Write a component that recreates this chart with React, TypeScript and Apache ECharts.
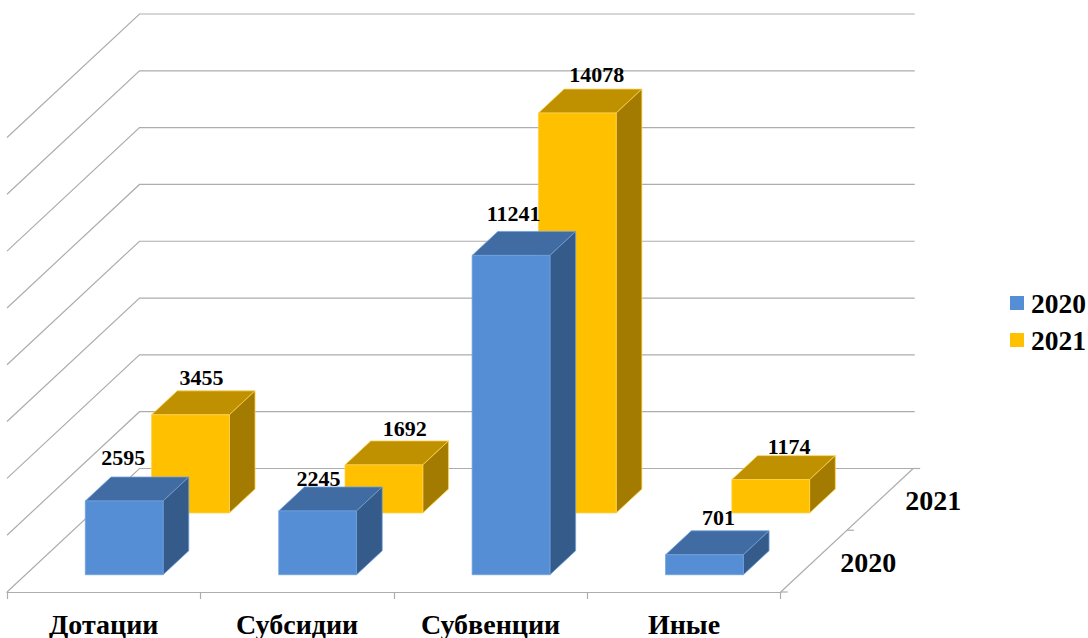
import React, { useEffect, useRef } from "react";
import * as echarts from "echarts";

const categories = ["Дотации", "Субсидии", "Субвенции", "Иные"];
const years = ["2020", "2021"];
const values2020 = [2595, 2245, 11241, 701];
const values2021 = [3455, 1692, 14078, 1174];
const wallTicks = [0, 2000, 4000, 6000, 8000, 10000, 12000, 14000, 16000];

// Layout of the oblique projection (not data)
const DEPTH_X = 132.5;
const DEPTH_Y = 123.5;
const ROW_FRONT = [0.14, 0.64];
const BAR_DEPTH = 0.194;
const BAR_WIDTH = 0.402;
const BAR_SHIFT = 0.01;
const LABEL_NUDGE_2020 = [[-1, -43], [1, -32], [2.5, -42], [14, -37]];
const LABEL_NUDGE_2021 = [[11, -37], [21, -36], [19.5, -39], [18.5, -33]];
const FONT = '"Liberation Serif", "Times New Roman", serif';
const LINE = "#ADADAD";

function project(api: any, x: number, v: number, d: number): number[] {
  const band = api.size([1, 0])[0];
  const p = api.coord([0, v]);
  const x0 = p[0] - band / 2 + x * band;
  return [x0 + d * DEPTH_X, p[1] - d * DEPTH_Y];
}

function poly(points: number[][], fill: string, stroke: string, z2 = 0) {
  return {
    type: "polygon",
    z2,
    shape: { points },
    style: { fill, stroke, lineWidth: 0.8 },
  };
}

function barSeries(
  name: string,
  values: number[],
  row: number,
  nudge: number[][],
  colors: { front: string; top: string; side: string; edge: string; main: string },
) {
  return {
    type: "custom",
    name,
    coordinateSystem: "cartesian2d",
    z: 3 + (1 - row),
    itemStyle: { color: colors.main },
    data: values.map((v, i) => [i, v]),
    encode: { x: 0, y: 1 },
    renderItem: (params: any, api: any) => {
      const c = api.value(0) as number;
      const v = api.value(1) as number;
      const d0 = ROW_FRONT[row];
      const d1 = d0 + BAR_DEPTH;
      const l = c + 0.5 + BAR_SHIFT - BAR_WIDTH / 2;
      const r = c + 0.5 + BAR_SHIFT + BAR_WIDTH / 2;
      const fb = project(api, l, 0, d0);
      const fbr = project(api, r, 0, d0);
      const ft = project(api, l, v, d0);
      const ftr = project(api, r, v, d0);
      const bt = project(api, l, v, d1);
      const btr = project(api, r, v, d1);
      const bbr = project(api, r, 0, d1);
      const centre = project(api, c + 0.5 + BAR_SHIFT, v, d0);
      const n = nudge[c];
      return {
        type: "group",
        children: [
          poly([ft, bt, btr, ftr], colors.top, colors.edge),
          poly([ftr, btr, bbr, fbr], colors.side, colors.edge),
          poly([fb, ft, ftr, fbr], colors.front, colors.edge),
          {
            type: "text",
            z2: 10,
            style: {
              text: String(v),
              x: centre[0] + n[0],
              y: centre[1] + n[1],
              align: "center",
              verticalAlign: "middle",
              fontFamily: FONT,
              fontWeight: "bold",
              fontSize: 22,
              fill: "#000",
            },
          },
        ],
      };
    },
  };
}

export default function App() {
  const ref = useRef<HTMLDivElement>(null);
  useEffect(() => {
    const chart = echarts.init(ref.current!, null, { renderer: "svg" });
    chart.setOption({
      animation: false,
      backgroundColor: "#fff",
      grid: { left: 7, top: 137.5, width: 773.7, height: 455 },
      xAxis: {
        type: "category",
        data: categories,
        boundaryGap: true,
        axisLine: { show: true, lineStyle: { color: LINE, width: 1.2 } },
        axisTick: { show: true, length: 7, lineStyle: { color: LINE, width: 1.2 } },
        axisLabel: {
          fontFamily: FONT,
          fontWeight: "bold",
          fontSize: 28,
          color: "#000",
          margin: 18,
          interval: 0,
        },
      },
      yAxis: { type: "value", min: 0, max: 16000, interval: 2000, show: false },
      legend: {
        data: years,
        orient: "vertical",
        left: 1010,
        top: 289,
        padding: 0,
        itemWidth: 14,
        itemHeight: 14,
        itemGap: 9,
        icon: "rect",
        selectedMode: false,
        textStyle: {
          fontFamily: FONT,
          fontWeight: "bold",
          fontSize: 27.5,
          color: "#000",
          padding: [0, 0, 0, 2],
        },
      },
      series: [
        {
          type: "custom",
          name: "walls",
          coordinateSystem: "cartesian2d",
          silent: true,
          z: 1,
          data: wallTicks.map((v) => [0, v]),
          encode: { x: 0, y: 1 },
          renderItem: (params: any, api: any) => {
            const v = api.value(1) as number;
            const a = project(api, 0, v, 0);
            const b = project(api, 0, v, 1);
            const c = project(api, 4.008, v, 1);
            return {
              type: "polyline",
              shape: { points: [a, b, c] },
              style: { fill: "none", stroke: LINE, lineWidth: 1.2 },
            };
          },
        },
        {
          type: "custom",
          name: "depth",
          coordinateSystem: "cartesian2d",
          silent: true,
          z: 1,
          data: [[0, 0]],
          encode: { x: 0, y: 1 },
          renderItem: (params: any, api: any) => {
            const front = project(api, 4, 0, 0);
            const mid = project(api, 4, 0, 0.5);
            const back = project(api, 4, 0, 1);
            const tick = (p: number[]) => ({
              type: "line",
              shape: { x1: p[0], y1: p[1], x2: p[0] + 7, y2: p[1] },
              style: { stroke: LINE, lineWidth: 1.2 },
            });
            const label = (text: string, p: number[]) => ({
              type: "text",
              style: {
                text,
                x: p[0],
                y: p[1],
                align: "center",
                verticalAlign: "middle",
                fontFamily: FONT,
                fontWeight: "bold",
                fontSize: 28,
                fill: "#000",
              },
            });
            return {
              type: "group",
              children: [
                { type: "line", shape: { x1: front[0], y1: front[1], x2: back[0], y2: back[1] }, style: { stroke: LINE, lineWidth: 1.2 } },
                tick(front),
                tick(mid),
                tick(back),
                label(years[0], [front[0] + 87.5, front[1] - 29.5]),
                label(years[1], [front[0] + 152.5, front[1] - 92]),
              ],
            };
          },
        },
        barSeries("2021", values2021, 1, LABEL_NUDGE_2021, {
          main: "#FFC000",
          front: "#FFC000",
          top: "#BF9000",
          side: "#A27B00",
          edge: "#FFD24D",
        }),
        barSeries("2020", values2020, 0, LABEL_NUDGE_2020, {
          main: "#558ED5",
          front: "#558ED5",
          top: "#406CA3",
          side: "#355B8A",
          edge: "#6F9FDC",
        }),
      ],
    });
    return () => chart.dispose();
  }, []);
  return <div ref={ref} style={{ position: "absolute", left: 0, top: 0, width: 1088, height: 638 }} />;
}
